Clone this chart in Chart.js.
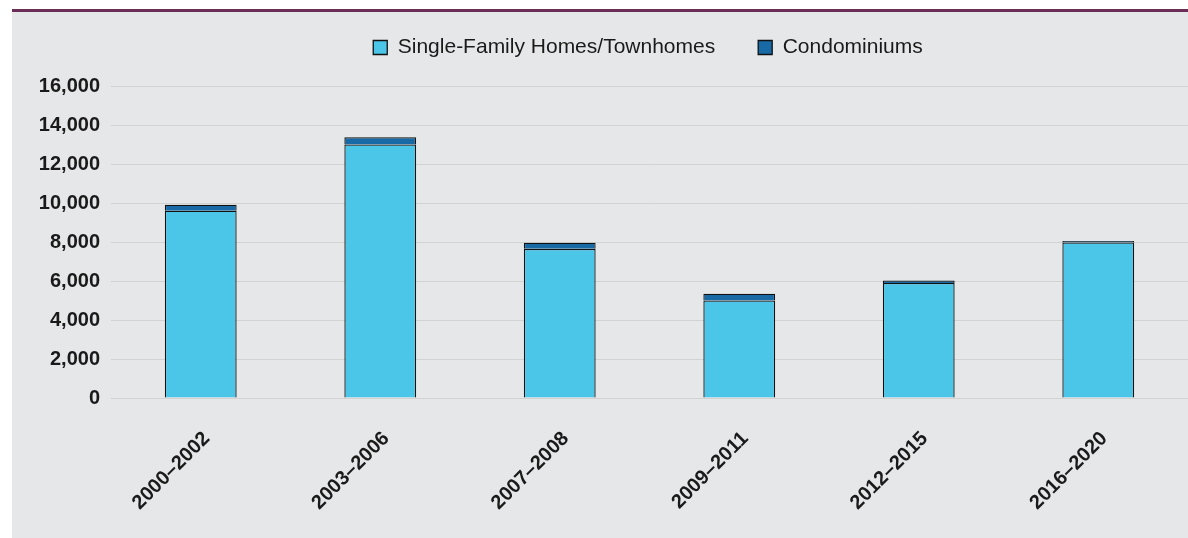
<!DOCTYPE html>
<html>
<head>
<meta charset="utf-8">
<script src="https://cdn.jsdelivr.net/npm/chart.js@4"></script>
<style>
  html, body { margin: 0; padding: 0; background: #fff; width: 1188px; height: 538px; overflow: hidden; }
  .rule { position: absolute; left: 12px; top: 9px; width: 1176px; height: 3px; background: #6b2f57; }
  .panel { position: absolute; left: 12px; top: 12px; width: 1176px; height: 526px; background: #e6e7e9; }
</style>
</head>
<body>
<div class="rule"></div>
<div class="panel"><canvas id="c" width="1176" height="526"></canvas></div>
<script>
// values (units)
const periods = ['2000–2002', '2003–2006', '2007–2008', '2009–2011', '2012–2015', '2016–2020'];
const singleFamily = [9600, 13000, 7650, 5000, 5900, 7980];
const condos = [310, 370, 310, 350, 120, 65];
const yMax = 16000;
const yStep = 2000;

const FONT = '"Liberation Sans", Arial, sans-serif';

// move the legend to where the original sits (centred over the plot, tight to the top)
const legendNudge = {
    id: 'legendNudge',
    afterUpdate(chart) {
        const lg = chart.legend;
        lg.left += 48; lg.right += 48;
        lg.top -= 18; lg.bottom -= 18;
    }
};

new Chart(document.getElementById('c'), {
    type: 'bar',
    data: {
        labels: periods,
        datasets: [
            {
                label: 'Single-Family Homes/Townhomes',
                data: singleFamily,
                backgroundColor: '#4bc6e8',
                borderColor: '#111',
                borderWidth: 1.3
            },
            {
                label: 'Condominiums',
                data: condos,
                backgroundColor: '#176aa6',
                borderColor: '#111',
                borderWidth: 1.3
            }
        ]
    },
    options: {
        responsive: false,
        animation: false,
        layout: { padding: { top: 0, left: 0, right: 0, bottom: 0 } },
        datasets: { bar: { barPercentage: 0.4, categoryPercentage: 1 } },
        scales: {
            x: {
                stacked: true,
                grid: { display: false, drawTicks: false },
                border: { display: false },
                ticks: {
                    minRotation: 45, maxRotation: 45,
                    padding: 29, labelOffset: 6,
                    color: '#1a1a1a',
                    font: { family: FONT, size: 20, weight: 'bold' }
                },
                afterFit: (s) => { s.height = 140; }
            },
            y: {
                stacked: true,
                min: 0, max: yMax,
                grid: { color: '#d2d2d2', lineWidth: 1, drawTicks: false },
                border: { display: false },
                ticks: {
                    stepSize: yStep,
                    padding: 11,
                    color: '#1a1a1a',
                    font: { family: FONT, size: 20, weight: 'bold' },
                    callback: (v) => v.toLocaleString('en-US')
                },
                afterFit: (s) => { s.width = 99; }
            }
        },
        plugins: {
            legend: {
                position: 'top',
                labels: {
                    boxWidth: 14, boxHeight: 14, padding: 43,
                    color: '#1a1a1a',
                    font: { family: FONT, size: 21 }
                }
            },
            tooltip: { enabled: false }
        }
    },
    plugins: [legendNudge]
});
</script>
</body>
</html>
